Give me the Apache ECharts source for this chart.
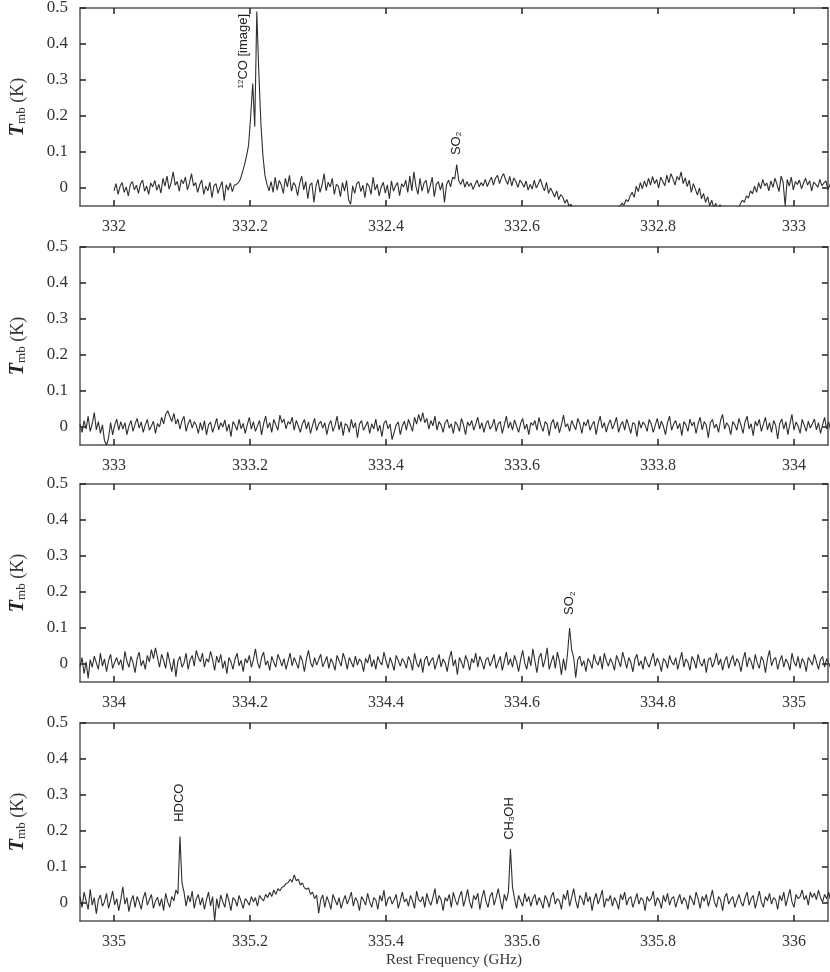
<!DOCTYPE html>
<html>
<head>
<meta charset="utf-8">
<script src="https://cdn.jsdelivr.net/npm/echarts@6/dist/echarts.min.js"></script>
<style>
  html, body { margin: 0; background: #fff; }
  #chart { width: 830px; height: 972px; }
</style>
</head>
<body>
<div id="chart"></div>
<script>
// spectra, one value per channel, in mK
var channelStep = 0.003; // GHz
var panelStart = [332.0, 332.95, 333.95, 334.95];
var panelMin = [331.95, 332.95, 333.95, 334.95];
var panelMax = [333.05, 334.05, 335.05, 336.05];

var xTicks = [
  [332, 332.2, 332.4, 332.6, 332.8, 333],
  [333, 333.2, 333.4, 333.6, 333.8, 334],
  [334, 334.2, 334.4, 334.6, 334.8, 335],
  [335, 335.2, 335.4, 335.6, 335.8, 336]
];
var yTicks = [0, 0.1, 0.2, 0.3, 0.4, 0.5];

var spec1_mK = [
  -8, 12, -18, 5, 15, -12, 3, -22, 9, 18, -5, 8, -15, 12, 22, -9, 6, -18, 14, 3,
  21, -6, 10, -14, 27, 5, 33, -3, 15, 45, 8, 18, -9, 24, 12, 30, -5, 14, 40, 6,
  15, -12, 9, 22, -18, 5, -8, 16, -27, 6, 12, -15, 3, 18, -35, 9, -6, 14, -10, 8,
  10, 15, 25, 45, 65, 90, 120, 200, 290, 170, 490, 320, 180, 90, 35, 10, -8, 18, -12, 30,
  -6, 21, 9, -15, 27, 3, 35, -9, 15, 6, -21, 12, 33, -5, 18, -30, 8, 14, -40, 5,
  24, -12, 9, 40, -8, 16, 3, 27, -18, 10, 5, -24, 15, -9, 21, -33, -45, 6, -15, 12,
  18, -10, 8, -27, 14, 5, -18, 30, -6, 10, -22, 3, 16, -14, 9, -30, 20, -9, 6, 15,
  -21, 12, 3, 22, -12, 33, -8, 45, 5, -18, 27, -9, 14, 21, -15, 6, 30, -24, 10, 18,
  -6, 15, -40, 9, 22, 3, 30, 25, 65, 20, 10, 25, 2, 18, 5, 14, -4, 10, 22, 3,
  15, 6, 24, 4, 18, 30, 8, 27, 35, 12, 30, 40, 22, 10, 32, 6, 28, 18, 2, 22,
  14, 2, 20, -6, 10, -3, 22, 0, 12, 25, 6, -8, 16, -15, 0, -12, -25, -8, -32, -18,
  -25, -42, -32, -50, -45, -60, -52, -65, -75, -85, -95, -100, -105, -115, -110, -120, -115, -125, -120, -115,
  -110, -105, -100, -95, -85, -78, -68, -58, -50, -42, -48, -32, -38, -22, -12, -26, 5, -10, 15, -2,
  20, 3, 27, 8, 32, 12, 24, 0, 30, 18, 6, 36, 14, 40, 26, 8, 32, 22, 45, 12,
  28, 4, 22, -12, 12, -3, -20, 0, -30, -15, -40, -24, -50, -34, -55, -42, -65, -46, -60, -52,
  -70, -56, -62, -75, -64, -52, -58, -44, -34, -40, -22, -28, -8, -16, 5, -12, 15, -2, 24, 6,
  14, -8, 20, 2, 27, 10, -10, 33, 16, -50, 24, 5, 30, -5, 18, 10, 22, -2, 14, 27,
  8, 20, -8, 16, 10, 2, 24, 6, 14, 20, -5, 10, 16, 4, 8, 14, -2, 10, 6, 3
];

var spec2_mK = [
  8, -15, 18, -5, 30, -12, 9, 40, -8, 15, -18, 6, -38, -50, -30, 12, -22, 5, 22, -9,
  15, -6, 12, -21, 3, 18, -12, 8, 24, -3, 14, -15, 6, 21, -9, 3, 16, -18, 10, 0,
  27, 9, 35, 45, 30, 15, 38, 8, 22, -6, 18, 30, -12, 9, 21, -3, 15, 5, -18, 12,
  -9, 18, -22, 6, 14, -15, 3, 24, -8, 12, 0, 20, -12, 8, -27, 15, 5, -9, 21, -5,
  10, -18, 6, 27, -6, 15, -12, 3, 18, -22, 9, 30, -3, 12, -15, 21, 6, -9, 33, 12,
  22, -5, 15, 8, 27, -9, 18, 3, -15, 9, 21, -6, 14, -18, 5, 24, -10, 8, 16, -3,
  12, -21, 6, 18, -12, 3, 30, -8, 15, -24, 9, 5, -15, 21, -3, 12, -30, 8, 18, -9,
  3, 15, -18, 9, -6, 22, -12, 5, -27, 10, 18, -5, 8, -35, -15, 6, 14, -21, 3, 16,
  -9, 21, 5, -12, 27, 8, 35, 15, 40, 12, 24, -6, 18, 3, 30, -9, 15, 6, -15, 12,
  21, -3, 9, -18, 15, 5, -12, 24, 6, -21, 14, 3, 18, -9, 8, 27, -5, 12, -15, 9,
  18, -6, 3, 22, -12, 9, 15, -18, 6, 30, -3, 14, -9, 20, 2, -15, 10, 24, -6, 8,
  -21, 12, 5, 18, -9, 27, 3, -12, 15, 8, -24, 10, 21, -5, 14, -16, 6, 33, 0, 9,
  -12, 18, 5, -8, 24, 9, -18, 14, 3, 21, -9, 6, 16, -21, 10, 30, -3, 12, -14, 8,
  20, -6, 9, 27, -15, 5, 15, -9, 22, 3, -18, 12, 8, -27, 18, -3, 14, 6, -12, 21,
  9, -15, 5, 24, -6, 16, 2, -21, 12, 30, -9, 8, 18, -5, 10, -24, 15, 6, -12, 22,
  3, 14, -18, 9, 27, -8, 15, 5, -30, 12, 21, -3, 8, -15, 18, 35, -6, 12, 3, -21,
  15, 6, -9, 24, 5, -18, 14, 30, -5, 9, -24, 16, 3, 21, -12, 8, 27, -8, 12, -15,
  18, 5, -33, 10, 22, -6, 15, -21, 9, 35, -9, 14, 3, -18, 21, 6, -12, 16, -3, 9,
  22, -8, 12, -18, 6, 27, -5, 15, -12, 9, 18, -6, 14, 3, -9, 15, 6, -3, 12, 5
];

var spec3_mK = [
  -8, 18, -27, 6, -40, 12, -9, 22, 3, -15, 30, -6, 14, -21, 9, 27, -12, 5, 18, -3,
  12, -18, 35, 8, -9, 21, 3, -24, 15, 33, -5, 10, -15, 24, 6, 40, 15, 45, 18, -9,
  27, 9, -12, 33, 5, -21, 15, -35, 8, 21, -9, 3, 30, -15, 12, 24, -6, 38, 18, 6,
  30, -9, 15, 5, 35, 12, -18, 22, 3, 27, -12, 9, -27, 18, 6, -15, 14, 30, -5, 10,
  -21, 15, 3, 24, -9, 12, 42, 6, -12, 18, 33, -3, 9, -18, 21, 5, -9, 27, 12, -6,
  15, -15, 8, 30, -5, 18, 3, -12, 24, 9, -21, 14, 38, 5, -9, 18, -3, 12, 27, -8,
  6, 21, -12, 15, 3, -18, 24, 9, -6, 30, 12, -15, 18, 5, -9, 22, -3, 14, 6, -21,
  16, 3, 27, -8, 12, -15, 21, 6, -3, 33, 9, -12, 18, 2, -18, 24, 10, -6, 15, 5,
  -12, 21, 8, -18, 30, 3, -9, 15, -24, 12, 22, -5, 9, 18, -15, 6, 27, -8, 14, 3,
  -21, 15, 36, -6, 12, -30, 18, 5, -12, 24, 9, -18, 15, 3, 30, -9, 21, 6, -15, 12,
  18, -6, 9, 27, -12, 5, 21, -18, 8, 33, -3, 15, -9, 24, 6, -21, 12, 38, 3, -15,
  21, -5, 42, 8, -24, 18, 30, -9, 12, 45, -15, 6, 24, -12, 33, 9, -30, 15, -18, 30,
  100, 40, 18, -38, 12, 22, -6, 9, -21, 15, 5, -12, 27, 6, -3, 21, -15, 30, 9, -6,
  15, 3, -18, 24, 9, -8, 33, 12, -12, 18, 5, -22, 14, 27, -5, 9, -15, 21, 3, -9,
  12, 30, -6, 16, 3, -21, 15, 8, -12, 24, 6, -3, 18, -15, 10, 33, -9, 14, 5, -18,
  21, 9, -12, 27, 3, -6, 15, -24, 12, 18, -9, 6, 30, -3, 14, -18, 8, 21, -12, 9,
  24, -6, 15, 5, -21, 12, 33, -9, 18, 6, -15, 27, 3, -12, 21, 9, -24, 15, 38, -5,
  12, 18, -15, 8, 24, -9, 14, 3, -18, 30, 6, -6, 21, -12, 15, 5, -21, 18, 9, -3,
  27, 6, -15, 12, 21, -9, 15, 3, -12, 24, 8, -5, 18, -9, 12, 30, -6, 9, 15, 3
];

var spec4_mK = [
  18, -12, 30, 6, -18, 38, -6, 15, -30, 9, 22, -9, 3, 27, -15, 8, 33, -5, 12, -21,
  9, 45, -3, 15, -24, 6, 21, -12, 18, 3, -18, 14, 30, -6, 9, 24, -15, 5, 16, -9,
  12, -21, 27, 3, -12, 18, 6, 36, 25, 185, 55, 30, -9, 21, 3, 33, -15, 12, 24, -6,
  15, -18, 9, 30, -8, 18, -50, 12, -15, 22, 3, -12, 27, 6, -21, 15, 9, -9, 21, 3,
  -15, 12, 5, -6, 18, 3, 15, -9, 21, 12, 6, 24, 15, 30, 18, 36, 24, 40, 34, 44,
  46, 54, 56, 66, 58, 78, 62, 66, 50, 56, 42, 38, 42, 24, 30, 12, 22, -28, 9, 22,
  -12, 18, 3, -18, 24, 9, -6, 15, -15, 6, 21, -3, 12, 30, -9, 15, 5, -21, 18, 8,
  -6, 27, 3, -12, 15, 9, -18, 21, 5, 36, -9, 12, 18, -3, 9, 24, -15, 6, 30, 3,
  12, -9, 21, 6, -15, 33, 9, 3, 18, -12, 27, 6, -6, 15, 40, -3, 21, 9, -21, 15,
  5, 24, -12, 30, 8, -6, 18, 33, -9, 12, 38, 3, -15, 21, 9, 27, -18, 14, 36, 5,
  -12, 18, 30, -6, 15, 40, 9, -18, 24, 6, 30, 150, 45, 12, -15, 21, 6, -9, 27, 3,
  18, -9, 12, 24, -6, 15, 3, -15, 21, 9, -12, 18, 30, -3, 12, 6, -18, 24, 9, 36,
  -9, 15, 40, 6, -15, 21, 12, -6, 30, 3, 18, -21, 9, 27, -3, 15, 36, -12, 12, 6,
  21, -9, 15, 3, -18, 24, 9, 30, -6, 12, 18, -12, 6, 27, -3, 15, 9, -21, 18, 5,
  12, 33, -9, 15, 6, -15, 21, 3, 27, -6, 12, 18, -12, 9, 24, -3, 15, 6, -18, 21,
  9, -6, 30, 12, -15, 18, 5, 24, -9, 12, 36, 3, -12, 18, 9, -21, 15, 27, -3, 9,
  18, -12, 6, 24, 3, -9, 15, 30, -6, 12, 21, -15, 9, 33, 3, -12, 18, 6, 27, -3,
  15, 9, -18, 21, 6, 30, -9, 15, 38, 3, -12, 24, 12, 18, 36, 9, 21, -6, 30, 15,
  27, 9, 36, 15, 3, 24, 12, 30, 6, 18, 9, 21, 15, 27, 6, 12, 18, 9, 15, 12
];

var spectra = [spec1_mK, spec2_mK, spec3_mK, spec4_mK];

// line identifications: [panel, frequency (GHz), label base (K), label]
var lineIds = [
  [0, 332.191, 0.275, '{sup|12}{n|CO [image]}'],
  [0, 332.504, 0.09, '{n|SO}{sub|2}'],
  [2, 334.671, 0.135, '{n|SO}{sub|2}'],
  [3, 335.097, 0.224, '{n|HDCO}'],
  [3, 335.582, 0.174, '{n|CH}{sub|3}{n|OH}']
];

var gridTop = [8, 247, 484, 723];
var serif = '"Liberation Serif", "DejaVu Serif", serif';
var sans = '"Liberation Sans", Arial, sans-serif';

var grids = [], xAxes = [], yAxes = [], series = [];

function frame() {
  return { show: true, onZero: false, lineStyle: { color: '#555', width: 1.5 } };
}
function tick(vals) {
  return { show: true, inside: true, length: 6, customValues: vals,
           lineStyle: { color: '#222', width: 1.5 } };
}
function fmt(v) { return String(+v.toFixed(1)); }

for (var p = 0; p < 4; p++) {
  grids.push({ left: 80, right: 2, top: gridTop[p], height: 198,
               containLabel: false, outerBoundsMode: 'none' });

  xAxes.push({
    type: 'value', gridIndex: p, position: 'bottom',
    min: panelMin[p], max: panelMax[p],
    axisLine: frame(), axisTick: tick(xTicks[p]), splitLine: { show: false },
    axisLabel: { customValues: xTicks[p], margin: 13, color: '#333',
                 fontFamily: serif, fontSize: 16, formatter: fmt },
    name: p === 3 ? 'Rest Frequency (GHz)' : '',
    nameLocation: 'middle', nameGap: 32,
    nameTextStyle: { fontFamily: serif, fontSize: 15, color: '#333' }
  });
  xAxes.push({
    type: 'value', gridIndex: p, position: 'top',
    min: panelMin[p], max: panelMax[p],
    axisLine: frame(), axisTick: tick(xTicks[p]), splitLine: { show: false },
    axisLabel: { show: false }
  });

  yAxes.push({
    type: 'value', gridIndex: p, position: 'left',
    min: -0.05, max: 0.5,
    axisLine: frame(), axisTick: tick(yTicks), splitLine: { show: false },
    axisLabel: { customValues: yTicks, margin: 12, color: '#333',
                 fontFamily: serif, fontSize: 17, formatter: fmt },
    name: '{t|T}{s|mb}{k| (K)}',
    nameLocation: 'middle', nameGap: 52, nameRotate: 90,
    nameTextStyle: {
      rich: {
        t: { fontFamily: serif, fontSize: 20, fontWeight: 'bold', fontStyle: 'italic', color: '#222' },
        s: { fontFamily: serif, fontSize: 13, color: '#333', verticalAlign: 'bottom', padding: [7, 0, 0, 0] },
        k: { fontFamily: serif, fontSize: 18, color: '#333' }
      }
    }
  });
  yAxes.push({
    type: 'value', gridIndex: p, position: 'right',
    min: -0.05, max: 0.5,
    axisLine: frame(), axisTick: tick(yTicks), splitLine: { show: false },
    axisLabel: { show: false }
  });

  var pts = spectra[p].map(function (v, k) {
    return [+(panelStart[p] + k * channelStep).toFixed(4), v / 1000];
  });

  var marks = lineIds.filter(function (l) { return l[0] === p; }).map(function (l) {
    return { coord: [l[1], l[2]], label: { formatter: l[3] } };
  });

  series.push({
    type: 'line', xAxisIndex: 2 * p, yAxisIndex: 2 * p,
    data: pts, showSymbol: false, clip: true,
    lineStyle: { color: '#2e2e2e', width: 1.1 },
    markPoint: {
      symbol: 'circle', symbolSize: 1,
      itemStyle: { color: 'rgba(0,0,0,0)' },
      label: {
        show: true, position: [0, 0], rotate: 90, align: 'left', verticalAlign: 'middle',
        color: '#222',
        rich: {
          n: { fontFamily: sans, fontSize: 13, color: '#222', lineHeight: 14 },
          sup: { fontFamily: sans, fontSize: 8, color: '#222', verticalAlign: 'top', lineHeight: 14 },
          sub: { fontFamily: sans, fontSize: 8, color: '#222', verticalAlign: 'bottom', lineHeight: 14 }
        }
      },
      data: marks
    }
  });
}

var chart = echarts.init(document.getElementById('chart'), null, { renderer: 'canvas' });
chart.setOption({
  animation: false,
  backgroundColor: '#fff',
  grid: grids,
  xAxis: xAxes,
  yAxis: yAxes,
  series: series
});
</script>
</body>
</html>
